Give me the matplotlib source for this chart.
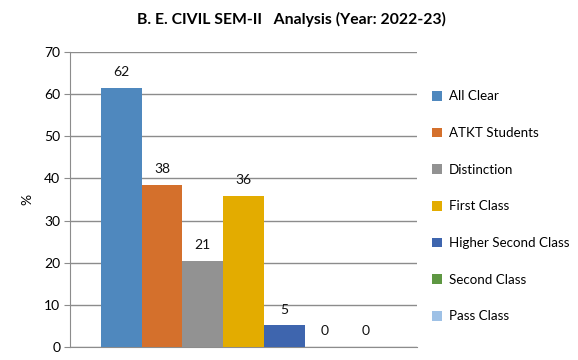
import matplotlib
matplotlib.use("Agg")
import matplotlib.pyplot as plt

categories = ["All Clear", "ATKT Students", "Distinction", "First Class",
              "Higher Second Class", "Second Class", "Pass Class"]
values = [61.54, 38.46, 20.51, 35.90, 5.13, 0, 0]
colors = ["#4F88BE", "#D4702C", "#929292", "#E3AC00",
          "#3E65AE", "#5E9742", "#9EC1E6"]
yticks = [0, 10, 20, 30, 40, 50, 60, 70]

plt.rcParams["font.family"] = ["Lato", "DejaVu Sans"]

fig = plt.figure(figsize=(5.78, 3.6), dpi=100)
ax = fig.add_axes([70 / 578, 13 / 360, 347 / 578, 295 / 360])

x = list(range(len(categories)))
bars = ax.bar(x, values, width=1.0, color=colors, label=categories, zorder=3)
for b, v in zip(bars, values):
    ax.annotate("%.0f" % v, (b.get_x() + b.get_width() / 2, v),
                xytext=(0, 7), textcoords="offset points",
                ha="center", va="bottom", fontsize=10, color="#111111")

ax.set_xlim(-1.26, len(categories) - 1 + 1.26)
ax.set_ylim(0, 70)
ax.set_yticks(yticks)
ax.set_xticks([])
ax.yaxis.grid(True, color="#8c8c8c", linewidth=1, zorder=0)
for s in ["top", "right"]:
    ax.spines[s].set_visible(False)
ax.spines["left"].set_color("#8c8c8c")
ax.spines["bottom"].set_color("#8c8c8c")
ax.tick_params(axis="y", length=4, color="#8c8c8c", labelsize=10, pad=3)
ax.set_ylabel("%", fontsize=10, labelpad=8)

ax.legend(loc="upper left", bbox_to_anchor=(1.005, 0.915), frameon=False,
          fontsize=9.6, handlelength=0.75, handleheight=0.75, handletextpad=0.5,
          labelspacing=1.85, borderaxespad=0.6)

fig.suptitle("B. E. CIVIL SEM-II   Analysis (Year: 2022-23)", x=0.505, y=0.967,
             fontsize=11.3, fontweight="bold")

fig.savefig("out.png", dpi=100)
